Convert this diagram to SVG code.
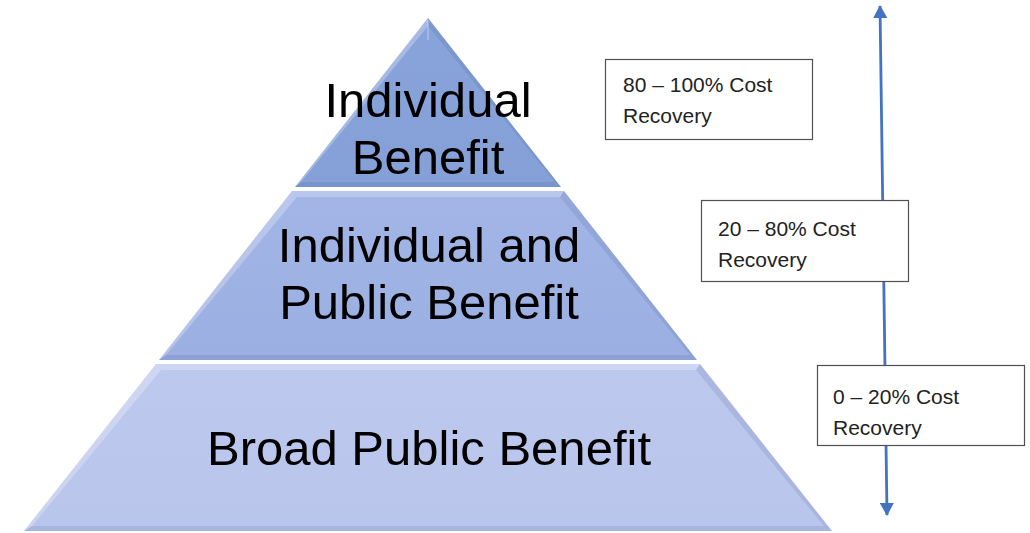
<svg xmlns="http://www.w3.org/2000/svg" width="1030" height="533" viewBox="0 0 1030 533">
<defs>
<style>
.tier-text{font-family:"Liberation Sans",Arial,sans-serif;font-size:49px;fill:#000;text-anchor:middle}
.box{fill:#fff;stroke:#505050;stroke-width:1.2}
.box-text{font-family:"Liberation Sans",Arial,sans-serif;font-size:21px;fill:#222}
.axis{stroke:#4472c4;stroke-width:2.8;fill:none}
.hl{fill:#fff;opacity:0.25}
.sh{fill:#2a3f7a;opacity:0.12}
</style>
<linearGradient id="g1" x1="0" y1="0" x2="0" y2="1">
<stop offset="0" stop-color="#89a4db"/><stop offset="1" stop-color="#859fd7"/>
</linearGradient>
<linearGradient id="g2" x1="0" y1="0" x2="0" y2="1">
<stop offset="0" stop-color="#a2b5e6"/><stop offset="1" stop-color="#9cafe2"/>
</linearGradient>
<linearGradient id="g3" x1="0" y1="0" x2="0" y2="1">
<stop offset="0" stop-color="#bdc8ee"/><stop offset="1" stop-color="#bac5ec"/>
</linearGradient>
<marker id="ah" viewBox="0 0 14 14" refX="12" refY="7" markerWidth="14" markerHeight="14" markerUnits="userSpaceOnUse" orient="auto-start-reverse">
<path d="M0,0 L13,7 L0,14 Z" fill="#4472c4"/>
</marker>
</defs>
<rect width="1030" height="533" fill="#fff"/>

<g id="tier-top">
<polygon points="428,18 295,187 561,187" fill="url(#g1)"/>
<polygon class="hl" points="428,18 295,187 301,182 428,26"/>
<polygon class="sh" points="428,18 561,187 555,182 428,26"/>
<polygon class="sh" points="295,187 561,187 555,182 301,182"/>
<line x1="428" y1="20" x2="428" y2="40" stroke="#fff" stroke-opacity="0.3" stroke-width="1.5"/>
<text class="tier-text" x="428" y="117">Individual</text>
<text class="tier-text" x="428" y="174">Benefit</text>
</g>

<g id="tier-middle">
<polygon points="292,191 564,191 697,360 159,360" fill="url(#g2)"/>
<polygon class="hl" points="292,191 564,191 560,197 297,197"/>
<polygon class="hl" points="292,191 297,197 166,355 159,360"/>
<polygon class="sh" points="564,191 697,360 690,355 560,197"/>
<polygon class="sh" points="159,360 697,360 690,355 166,355"/>
<text class="tier-text" x="429" y="262">Individual and</text>
<text class="tier-text" x="429" y="319">Public Benefit</text>
</g>

<g id="tier-bottom">
<polygon points="156,364 700,364 832,531 24,531" fill="url(#g3)"/>
<polygon class="hl" points="156,364 700,364 696,370 161,370"/>
<polygon class="hl" points="156,364 161,370 32,526 24,531"/>
<polygon class="sh" points="700,364 832,531 824,526 696,370"/>
<polygon class="sh" points="24,531 832,531 824,526 32,526"/>
<text class="tier-text" x="429" y="465">Broad Public Benefit</text>
</g>

<g id="connectors">
<line class="axis" x1="880" y1="6" x2="887" y2="515" marker-start="url(#ah)" marker-end="url(#ah)"/>
</g>

<g id="box-80-100">
<rect class="box" x="605.5" y="59.5" width="207" height="80"/>
<text class="box-text" x="623" y="92">80 – 100% Cost</text>
<text class="box-text" x="623" y="123">Recovery</text>
</g>

<g id="box-20-80">
<rect class="box" x="701.5" y="200.5" width="207" height="81"/>
<text class="box-text" x="718" y="236">20 – 80% Cost</text>
<text class="box-text" x="718" y="267">Recovery</text>
</g>

<g id="box-0-20">
<rect class="box" x="817.5" y="365.5" width="207" height="80"/>
<text class="box-text" x="833" y="404">0 – 20% Cost</text>
<text class="box-text" x="833" y="435">Recovery</text>
</g>
</svg>
